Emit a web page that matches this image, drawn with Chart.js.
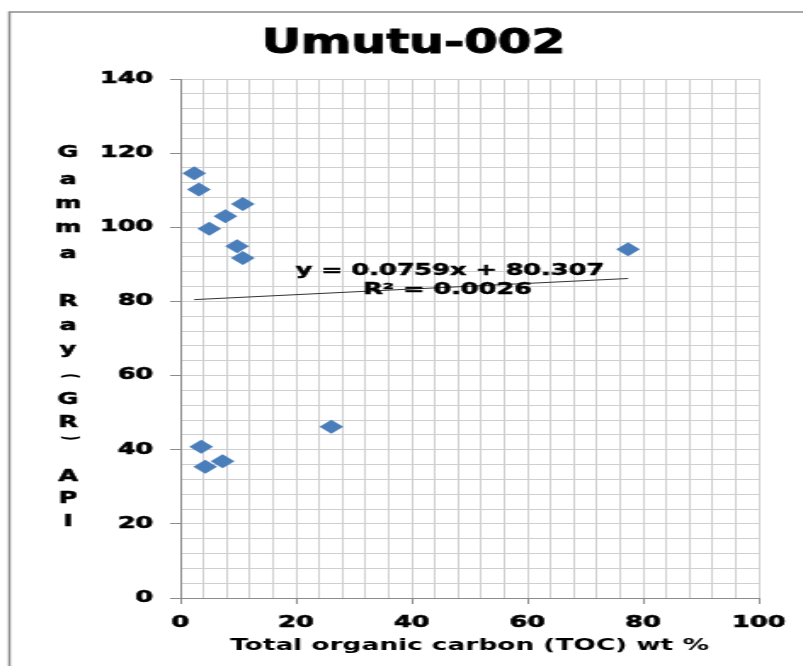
<!DOCTYPE html>
<html lang="en">
<head>
    <meta charset="UTF-8">
    <title>Umutu-002</title>
    <script src="https://cdn.jsdelivr.net/npm/chart.js"></script>
    <style>
        html, body {
            margin: 0;
            padding: 0;
            background: #fff;
            overflow: hidden;
        }
        /* the original picture is stretched sideways, so draw narrow and scale */
        #wrap {
            width: 472px;
            height: 666px;
            transform: scaleX(1.7013);
            transform-origin: 0 0;
        }
    </style>
</head>
<body>
    <div id="wrap">
        <canvas id="tocChart" width="472" height="666"></canvas>
    </div>

    <script>
        // Data
        const tocValues = [2.4, 3.2, 10.8, 7.8, 5.0, 9.8, 10.8, 77.4, 26.1, 3.6, 4.3, 7.3];
        const grValues = [114.6, 110.2, 106.3, 103.0, 99.6, 94.9, 91.7, 94.1, 46.2, 40.8, 35.4, 36.9];
        const trendSlope = 0.0759;
        const trendIntercept = 80.307;
        const trendEquation = 'y = 0.0759x + 80.307';
        const trendR2 = 'R\u00b2 = 0.0026';

        const xRange = [0, 100];
        const yRange = [0, 140];
        const gridStep = 4;
        const labelStep = 20;

        const chartTitle = 'Umutu-002';
        const xTitle = 'Total organic carbon (TOC) wt %';
        const yTitle = 'GammaRay(GR)API';

        const pointColor = '#4a7ebb';
        const fontName = '"DejaVu Sans", sans-serif';

        // trendline runs over the x range of the data
        const trendX = [Math.min(...tocValues), Math.max(...tocValues)];
        const trendPoints = trendX.map(x => ({ x: x, y: trendSlope * x + trendIntercept }));

        const scatterPoints = tocValues.map((x, i) => ({ x: x, y: grValues[i] }));

        // frame, title, stacked y title and the trendline label
        const extras = {
            id: 'extras',
            beforeDraw(chart) {
                const ctx = chart.ctx;
                ctx.save();
                ctx.fillStyle = '#fff';
                ctx.fillRect(0, 0, chart.width, chart.height);
                ctx.strokeStyle = '#8c8c8c';
                ctx.lineWidth = 1.5;
                ctx.beginPath();
                ctx.moveTo(chart.width + 5, 12);
                ctx.lineTo(5.5, 12);
                ctx.lineTo(5.5, chart.height + 5);
                ctx.stroke();
                ctx.restore();
            },
            afterDraw(chart) {
                const ctx = chart.ctx;
                const xs = chart.scales.x;
                const ys = chart.scales.y;
                ctx.save();
                ctx.fillStyle = '#000';
                ctx.strokeStyle = '#000';
                ctx.textAlign = 'center';
                ctx.textBaseline = 'middle';

                // chart title, a bit narrower than the rest
                ctx.save();
                ctx.translate(243, 44);
                ctx.scale(0.84, 1);
                ctx.font = 'bold 34px ' + fontName;
                ctx.lineWidth = 1;
                ctx.fillText(chartTitle, 0, 0);
                ctx.strokeText(chartTitle, 0, 0);
                ctx.restore();

                // Excel style stacked letters
                const rows = [153, 180, 204, 228, 254, 302, 326, 350, 376, 400, 423, 438, 477, 499, 522];
                ctx.font = 'bold 15px ' + fontName;
                ctx.lineWidth = 0.5;
                yTitle.split('').forEach((ch, i) => {
                    if (ch === '(' || ch === ')') {
                        ctx.save();
                        ctx.translate(40, rows[i]);
                        ctx.rotate(Math.PI / 2);
                        ctx.font = 'bold 12px ' + fontName;
                        ctx.fillText(ch, 0, 0);
                        ctx.restore();
                    } else {
                        ctx.fillText(ch, 40, rows[i]);
                        ctx.strokeText(ch, 40, rows[i]);
                    }
                });

                // trendline label
                ctx.font = 'bold 15px ' + fontName;
                ctx.fillText(trendEquation, xs.getPixelForValue(46.6), ys.getPixelForValue(88.3));
                ctx.strokeText(trendEquation, xs.getPixelForValue(46.6), ys.getPixelForValue(88.3));
                ctx.fillText(trendR2, xs.getPixelForValue(46.2), ys.getPixelForValue(83.0));
                ctx.strokeText(trendR2, xs.getPixelForValue(46.2), ys.getPixelForValue(83.0));
                ctx.restore();
            }
        };

        const majorTick = ctx => (ctx.tick && ctx.tick.value % labelStep === 0) ? '#8c8c8c' : 'rgba(0,0,0,0)';
        const tickFont = { family: fontName, size: 15, weight: 'bold' };

        new Chart(document.getElementById('tocChart'), {
            type: 'scatter',
            data: {
                datasets: [
                    {
                        label: 'GR vs TOC',
                        data: scatterPoints,
                        pointStyle: 'rectRot',
                        pointRadius: 7,
                        pointBackgroundColor: pointColor,
                        pointBorderColor: pointColor,
                        pointBorderWidth: 0
                    },
                    {
                        type: 'line',
                        label: 'Trend',
                        data: trendPoints,
                        borderColor: '#333',
                        borderWidth: 1,
                        pointRadius: 0,
                        fill: false
                    }
                ]
            },
            options: {
                responsive: false,
                animation: false,
                events: [],
                layout: { padding: { left: 0, right: 26, top: 79, bottom: 0 } },
                plugins: {
                    legend: { display: false },
                    tooltip: { enabled: false },
                    title: { display: false }
                },
                scales: {
                    x: {
                        type: 'linear',
                        min: xRange[0],
                        max: xRange[1],
                        afterFit(scale) { scale.height = 68; },
                        border: { color: '#8c8c8c', width: 1 },
                        grid: { color: '#cfcfcf', tickLength: 6, tickColor: majorTick },
                        ticks: {
                            stepSize: gridStep,
                            autoSkip: false,
                            maxRotation: 0,
                            padding: 10,
                            color: '#000',
                            textStrokeColor: '#000',
                            textStrokeWidth: 0.6,
                            font: tickFont,
                            callback: v => (v % labelStep === 0 ? v : '')
                        },
                        title: {
                            display: true,
                            text: xTitle,
                            color: '#000',
                            font: { family: fontName, size: 15.5, weight: 'bold' },
                            padding: { top: 4, bottom: 11 }
                        }
                    },
                    y: {
                        type: 'linear',
                        min: yRange[0],
                        max: yRange[1],
                        afterFit(scale) { scale.width = 106; },
                        border: { color: '#8c8c8c', width: 1 },
                        grid: { color: '#cfcfcf', tickLength: 6, tickColor: majorTick },
                        ticks: {
                            stepSize: gridStep,
                            autoSkip: false,
                            padding: 10,
                            color: '#000',
                            textStrokeColor: '#000',
                            textStrokeWidth: 0.6,
                            font: tickFont,
                            callback: v => (v % labelStep === 0 ? v : '')
                        }
                    }
                }
            },
            plugins: [extras]
        });
    </script>
</body>
</html>
